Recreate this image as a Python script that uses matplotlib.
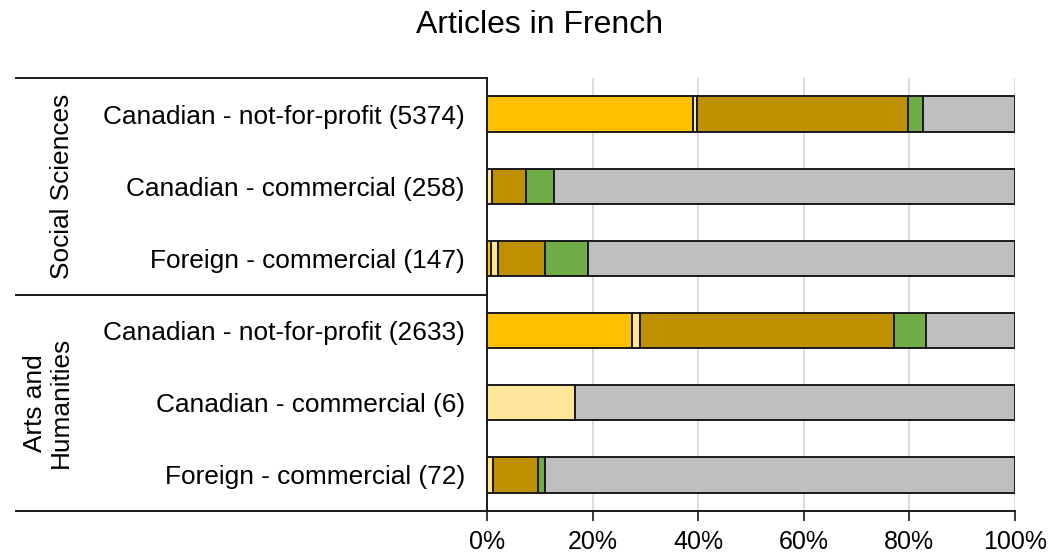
import matplotlib
matplotlib.use('Agg')
from matplotlib import pyplot as plt

# Bar rows, top to bottom
groups = ['Social Sciences', 'Arts and\nHumanities']
categories = [
    'Canadian - not-for-profit (5374)',
    'Canadian - commercial (258)',
    'Foreign - commercial (147)',
    'Canadian - not-for-profit (2633)',
    'Canadian - commercial (6)',
    'Foreign - commercial (72)',
]

# Share of articles (%) in each segment, per row
seg_yellow = [39.0, 0.0, 0.7, 27.5, 0.0, 0.0]
seg_light = [0.7, 1.0, 1.4, 1.4, 16.7, 1.2]
seg_gold = [40.1, 6.3, 8.8, 48.2, 0.0, 8.5]
seg_green = [2.7, 5.4, 8.2, 6.0, 0.0, 1.3]
seg_gray = [17.5, 87.3, 80.9, 16.9, 83.3, 89.0]

tick_vals = [0, 20, 40, 60, 80, 100]
tick_labels = ['0%', '20%', '40%', '60%', '80%', '100%']

plt.rcParams['font.family'] = ['Liberation Sans', 'DejaVu Sans']

fig = plt.figure(figsize=(10.51, 5.53), dpi=100)
W, H = 1051, 553
ax = fig.add_axes([487 / W, 1 - 511 / H, (1015 - 487) / W, (511 - 78) / H])

segments = [seg_yellow, seg_light, seg_gold, seg_green, seg_gray]
colors = ['#FFC000', '#FFE699', '#BF9000', '#70AD47', '#BFBFBF']
ypos = list(range(len(categories)))
left = [0.0] * len(categories)
for vals, col in zip(segments, colors):
    ax.barh(ypos, vals, left=left, height=0.49, color=col,
            edgecolor='#1a1a1a', linewidth=1.4, zorder=3)
    left = [a + b for a, b in zip(left, vals)]

ax.set_xlim(0, 100)
ax.set_ylim(len(categories) - 0.5, -0.5)
ax.set_xticks(tick_vals)
ax.set_xticklabels(tick_labels, fontsize=18)
ax.set_yticks(ypos)
ax.set_yticklabels(categories, fontsize=18.9)
ax.tick_params(axis='y', length=0, pad=16)
ax.tick_params(axis='x', direction='out', length=7, width=1.2, pad=7,
               color='#1a1a1a')
ax.xaxis.grid(True, color='#D9D9D9', linewidth=1.3, zorder=0)
ax.set_axisbelow(True)
for side in ['top', 'right']:
    ax.spines[side].set_visible(False)
for side in ['left', 'bottom']:
    ax.spines[side].set_linewidth(1.4)
    ax.spines[side].set_color('#1a1a1a')

# Group separator lines left of the axis
x0 = (16 - 487) / 528
for yy in [1.0, 0.5, 0.0]:
    ax.plot([x0, 0], [yy, yy], transform=ax.transAxes, color='#1a1a1a',
            linewidth=1.4, clip_on=False)

# Group labels
ax.text((62 - 487) / 528, 0.75, groups[0], transform=ax.transAxes,
        rotation=90, ha='center', va='center', fontsize=18.9)
ax.text((48 - 487) / 528, 0.25, groups[1], transform=ax.transAxes,
        rotation=90, ha='center', va='center', fontsize=18.9,
        multialignment='center', linespacing=1.1)

fig.text(540 / W, 1 - 25 / H, 'Articles in French', ha='center',
         va='center', fontsize=23)

fig.savefig('out.png', dpi=100)
